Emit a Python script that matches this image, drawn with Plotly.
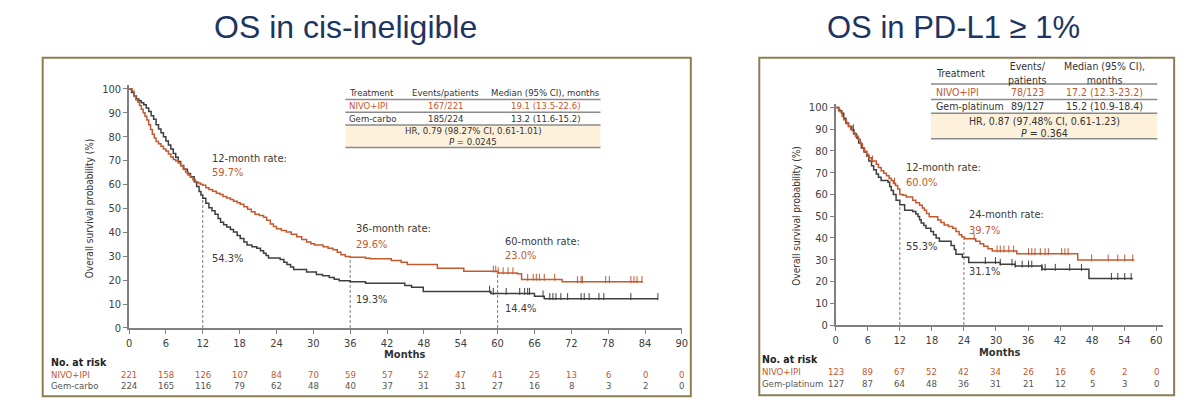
import plotly.graph_objects as go

# ---------------- DATA ----------------
# Left panel: OS in cis-ineligible
L_nivo_t = [0, 0.5, 0.8, 1.1, 1.4, 1.7, 2.0, 2.3, 2.6, 2.9, 3.2, 3.5, 3.8, 4.1, 4.4, 4.8, 5.2, 5.6, 6.0, 6.4,
            6.8, 7.2, 7.6, 8.0, 8.4, 8.8, 9.2, 9.6, 10.0, 10.4, 10.8, 11.2, 11.6, 12.0, 12.5, 13.0, 13.6, 14.2,
            14.8, 15.3, 15.9, 16.5, 17.0, 17.6, 18.1, 18.7, 19.3, 19.9, 20.5, 21.2, 21.9, 22.4, 23.0, 23.5,
            24.0, 24.8, 25.6, 26.4, 27.3, 28.1, 28.9, 29.6, 30.2, 31.6, 32.4, 33.2, 33.9, 34.5, 35.2, 36.0,
            38.5, 39.3, 42.7, 44.3, 45.3, 50.2, 54.5, 60.0, 63.2, 63.9, 70.5, 83.6]
L_nivo_s = [100, 99, 97, 95.5, 94.5, 93, 91.5, 90, 88.5, 87, 85, 83, 81, 79.5, 78, 77, 76, 74.8, 74, 72.8,
            71.5, 70.5, 69.8, 69, 67.8, 66.5, 65.2, 64, 63, 62, 61.2, 60.6, 60.1, 59.7, 58.6, 57.9, 57.2, 56.3,
            55.8, 55, 54.4, 53.7, 53, 52.4, 51.7, 50.7, 49.7, 48.6, 47.6, 47, 46.3, 45, 43.5, 42.4,
            41.5, 40.8, 40.1, 39.2, 38.1, 37, 36, 35.2, 34.7, 34, 33.3, 32.7, 31.7, 30.6, 29.9, 29.6,
            29.2, 28.9, 28.2, 27.5, 26.5, 25.0, 23.7, 23.0, 22.7, 20.3, 19.3, 19.3]
L_gem_t = [0, 0.4, 0.8, 1.2, 1.6, 2.0, 2.4, 2.8, 3.2, 3.6, 4.0, 4.4, 4.8, 5.2, 5.6, 6.0, 6.4, 6.8, 7.2, 7.6,
           8.0, 8.4, 8.9, 9.5, 10.0, 10.6, 11.0, 11.4, 11.7, 12.0, 12.5, 13.0, 13.5, 14.0, 14.5, 14.9, 15.4,
           15.9, 16.5, 17.0, 17.6, 18.1, 18.7, 19.2, 20.0, 20.8, 21.4, 21.9, 22.3, 22.7, 24.6, 25.2, 25.7,
           26.3, 26.8, 28.9, 30.5, 31.5, 32.6, 33.4, 34.2, 36.0, 38.5, 44.9, 46.0, 47.9, 58.9, 66.0, 67.6, 86.1]
L_gem_s = [100, 98.5, 97, 95.8, 95, 94.2, 93.4, 92, 90.5, 88.8, 87.3, 85, 83.2, 81.6, 80, 78.2, 76.5, 74.8, 73,
           71.4, 69.6, 68, 66.4, 64.6, 63.2, 61.2, 59.2, 57.1, 55.6, 54.3, 52.2, 50.3, 49, 47.6, 45.8, 44.2,
           43.2, 42.2, 41.2, 40.1, 38.7, 37.4, 36, 34.7, 34, 33.3, 32.3, 31.3, 30.3, 29.3, 28.6, 27.5, 26.5,
           25.5, 24.5, 23.4, 22.4, 21.8, 21.1, 20.4, 19.7, 19.3, 18.7, 17.8, 17.0, 15.3, 14.4, 13.3, 12.2, 12.2]
L_nivo_cens = [59.3, 59.7, 60.1, 60.9, 61.7, 62.5, 64.9, 65.8, 66.3, 66.8, 67.6, 69.3, 73.0, 73.6, 73.8,
               77.6, 78.2, 81.7, 82.2, 82.7, 83.5]
L_gem_cens = [58.7, 59.3, 61.4, 63.6, 64.4, 64.9, 65.2, 67.4, 68.5, 69.0, 69.5, 70.3, 71.4, 73.6, 74.1,
              74.9, 76.5, 77.3, 81.7, 86.1]
L_risk_months = [0, 6, 12, 18, 24, 30, 36, 42, 48, 54, 60, 66, 72, 78, 84, 90]
L_risk_nivo = [221, 158, 126, 107, 84, 70, 59, 57, 52, 47, 41, 25, 13, 6, 0, 0]
L_risk_gem = [224, 165, 116, 79, 62, 48, 40, 37, 31, 31, 27, 16, 8, 3, 2, 0]
L_marks = [12, 36, 60]
L_marks_top = [54.3, 29.6, 23.0]

# Right panel: OS in PD-L1 >= 1%
R_nivo_t = [0, 0.5, 0.8, 1.2, 1.5, 2.0, 2.4, 2.8, 3.3, 3.7, 4.2, 4.6, 5.0, 5.4, 5.8, 6.2, 6.7, 7.6, 8.0, 8.5,
            9.0, 9.5, 10.0, 10.4, 10.8, 11.2, 11.6, 12.0, 12.6, 13.2, 14.4, 15.0, 15.7, 16.2, 16.6, 17.0,
            17.5, 19.1, 19.7, 20.3, 21.1, 21.9, 22.5, 23.1, 23.6, 24.1, 26.2, 27.0, 27.7, 28.5, 29.3, 33.9,
            45.3, 55.9]
R_nivo_s = [100, 99, 98, 95.8, 94.3, 92.5, 91.3, 89.8, 88.2, 86.7, 85.2, 83.3, 81.4, 79.9, 78.4, 76.9, 75.4,
            73.9, 72.4, 70.9, 69.8, 68.6, 67.5, 66.4, 65.2, 64.1, 62.5, 60.0, 59.6, 58.8, 57.3, 56.2, 55,
            53.8, 52.8, 51.3, 49.8, 48.3, 47.1, 46, 45.3, 44.5, 43, 41.5, 40.5, 39.7, 38.5, 37.3, 36.2, 35.1,
            34.0, 32.8, 29.9, 29.9]
R_gem_t = [0, 0.6, 1.1, 1.5, 1.9, 2.4, 3.0, 3.4, 3.9, 4.3, 4.8, 5.3, 5.8, 6.2, 6.7, 7.1, 7.6, 8.0, 8.5, 9.8,
           10.1, 10.4, 10.8, 11.3, 12.0, 12.9, 14.4, 15.0, 15.4, 15.7, 16.0, 16.5, 16.9, 17.8, 18.3, 18.8,
           19.4, 21.6, 22.2, 22.5, 23.7, 24.9, 30.8, 33.6, 38.6, 47.4, 55.6]
R_gem_s = [100, 98.5, 97.3, 95, 92.8, 91.2, 89.7, 87.8, 86, 83.7, 81.4, 79.5, 77.7, 75.4, 73.2, 71.3, 69.4,
           67.9, 66.4, 65.6, 63.7, 61.8, 60, 57.3, 55.3, 52.8, 52.2, 51.0, 49.9, 48.4, 46.9, 45.7, 44.5, 43,
           41.5, 40, 38.5, 36.5, 34.7, 32.5, 31.1, 28.7, 27.9, 27.1, 25.6, 21.4, 21.4]
R_nivo_cens = [6.9, 11.0, 25.9, 30.2, 30.8, 31.5, 32.4, 33.3, 36.1, 36.7, 37.3, 38.3, 39.2, 39.8, 42.3, 42.9,
               43.5, 47.9, 51.0, 52.8, 54.1, 55.6]
R_gem_cens = [3.3, 28.0, 29.9, 30.8, 33.0, 33.6, 34.9, 36.1, 36.7, 38.6, 39.2, 41.1, 43.8, 46.0, 51.6, 52.8,
              54.1, 55.3]
R_risk_months = [0, 6, 12, 18, 24, 30, 36, 42, 48, 54, 60]
R_risk_nivo = [123, 89, 67, 52, 42, 34, 26, 16, 6, 2, 0]
R_risk_gem = [127, 87, 64, 48, 36, 31, 21, 12, 5, 3, 0]
R_marks = [12, 24]
R_marks_top = [55.3, 39.7]

# ---------------- STYLE ----------------
ORANGE = "#c4582e"
GRAY = "#3e3e3e"
AXC = "#808080"
TXT = "#404040"
NAVY = "#1d3560"
BORDER = "#8c7d55"
BEIGE = "#fdf1dc"
COND = "DejaVu Sans Condensed, DejaVu Sans, sans-serif"
W, H = 1200, 414


def PX(x):
    return x / W


def PY(y):
    return 1 - y / H


def step_at(ts, ss, t):
    v = ss[0]
    for a, b in zip(ts, ss):
        if a <= t:
            v = b
    return v


fig = go.Figure()


def add_panel(xa, ya, nt, ns, gt, gs, nc, gc, marks, tops):
    for t, top in zip(marks, tops):
        fig.add_trace(go.Scatter(x=[t, t], y=[0, top], mode="lines", xaxis=xa, yaxis=ya,
                                 line=dict(color="#7a7a7a", width=1, dash="3px,2px"), hoverinfo="skip"))
    fig.add_trace(go.Scatter(x=gt, y=gs, mode="lines", line=dict(color=GRAY, width=1.5, shape="hv"),
                             xaxis=xa, yaxis=ya))
    fig.add_trace(go.Scatter(x=nt, y=ns, mode="lines", line=dict(color=ORANGE, width=1.5, shape="hv"),
                             xaxis=xa, yaxis=ya))
    fig.add_trace(go.Scatter(x=gc, y=[step_at(gt, gs, t) + 0.9 for t in gc], mode="markers",
                             marker=dict(symbol="line-ns", size=5, line=dict(color=GRAY, width=1)),
                             xaxis=xa, yaxis=ya))
    fig.add_trace(go.Scatter(x=nc, y=[step_at(nt, ns, t) + 0.9 for t in nc], mode="markers",
                             marker=dict(symbol="line-ns", size=5, line=dict(color=ORANGE, width=1)),
                             xaxis=xa, yaxis=ya))


add_panel("x", "y", L_nivo_t, L_nivo_s, L_gem_t, L_gem_s, L_nivo_cens, L_gem_cens, L_marks, L_marks_top)
add_panel("x2", "y2", R_nivo_t, R_nivo_s, R_gem_t, R_gem_s, R_nivo_cens, R_gem_cens, R_marks, R_marks_top)

axis_common = dict(showline=True, linecolor=AXC, linewidth=1.5, ticks="outside", ticklen=4, tickcolor=AXC,
                   tickwidth=1, showgrid=False, zeroline=False, tickfont=dict(family=COND, size=11, color=TXT),
                   fixedrange=True)

L_y0, L_ppu = 333, 2.45
R_y0, R_ppu = 330, 2.23
fig.update_layout(
    xaxis=dict(domain=[PX(127), PX(684)], range=[0, 90], tickvals=L_risk_months, anchor="y", **axis_common),
    yaxis=dict(domain=[PY(L_y0), PY(L_y0 - 101.5 * L_ppu)], range=[0, 101.5], tickvals=list(range(0, 101, 10)),
               anchor="x", **axis_common),
    xaxis2=dict(domain=[PX(839), PX(839 + 61.3 * 5.383)], range=[0, 61.3], tickvals=R_risk_months, anchor="y2",
                **axis_common),
    yaxis2=dict(domain=[PY(R_y0), PY(R_y0 - 101.5 * R_ppu)], range=[0, 101.5], tickvals=list(range(0, 101, 10)),
                anchor="x2", **axis_common),
)

shapes = []
ann = []

# Panel borders
shapes.append(dict(type="rect", xref="paper", yref="paper", x0=PX(40), x1=PX(693), y0=PY(403), y1=PY(56),
                   line=dict(color=BORDER, width=2), layer="below"))
shapes.append(dict(type="rect", xref="paper", yref="paper", x0=PX(762), x1=PX(1180), y0=PY(402), y1=PY(56),
                   line=dict(color=BORDER, width=2), layer="below"))

# Titles
ann.append(dict(text="OS in cis-ineligible", x=PX(345), y=PY(25), xref="paper", yref="paper", showarrow=False,
                font=dict(family="Liberation Sans, Arial", size=32, color=NAVY), xanchor="center", yanchor="middle"))
ann.append(dict(text="OS in PD-L1 \u2265 1%", x=PX(958), y=PY(25), xref="paper", yref="paper", showarrow=False,
                font=dict(family="Liberation Sans, Arial", size=31, color=NAVY), xanchor="center", yanchor="middle"))


def txt(text, x, y, size=10, color=TXT, xanchor="center", family=COND, xref="paper", yref="paper", angle=0):
    ann.append(dict(text=text, x=x, y=y, xref=xref, yref=yref, showarrow=False, textangle=angle,
                    font=dict(family=family, size=size, color=color), xanchor=xanchor, yanchor="middle"))


def hline(x0, x1, y, color="#8a8a8a", width=1.5):
    shapes.append(dict(type="line", xref="paper", yref="paper", x0=PX(x0), x1=PX(x1), y0=PY(y), y1=PY(y),
                       line=dict(color=color, width=width)))


# Axis titles
txt("Overall survival probability (%)", PX(88), PY(210), size=10, color="#333333", angle=-90)
txt("Overall survival probability (%)", PX(800), PY(218), size=10, color="#333333", angle=-90)
txt("<b>Months</b>", PX(405), PY(360), size=11, color="#333333")
txt("<b>Months</b>", PX(1004), PY(358), size=11, color="#333333")

# Left table
tl, tr = 345, 602
shapes.append(dict(type="rect", xref="paper", yref="paper", x0=PX(tl), x1=PX(tr), y0=PY(148), y1=PY(125),
                   fillcolor=BEIGE, line=dict(width=0), layer="below"))
for yy in (99, 112, 125, 148):
    hline(tl, tr, yy)
fs = 9.5
txt("Treatment", PX(347), PY(92), fs, "#333333", "left")
txt("Events/patients", PX(446), PY(92), fs, "#333333")
txt("Median (95% CI), months", PX(547), PY(92), fs, "#333333")
txt("NIVO+IPI", PX(347), PY(105.5), fs, ORANGE, "left")
txt("167/221", PX(446), PY(105.5), fs, ORANGE)
txt("19.1 (13.5-22.6)", PX(547), PY(105.5), fs, ORANGE)
txt("Gem-carbo", PX(347), PY(118.5), fs, "#333333", "left")
txt("185/224", PX(446), PY(118.5), fs, "#333333")
txt("13.2 (11.6-15.2)", PX(547), PY(118.5), fs, "#333333")
txt("HR, 0.79 (98.27% CI, 0.61-1.01)", PX(474), PY(131), fs, "#333333")
txt("<i>P</i> = 0.0245", PX(474), PY(142), fs, "#333333")

# Right table
rl, rr = 935, 1163
shapes.append(dict(type="rect", xref="paper", yref="paper", x0=PX(rl), x1=PX(rr), y0=PY(139), y1=PY(113),
                   fillcolor=BEIGE, line=dict(width=0), layer="below"))
for yy in (83, 99, 113, 139):
    hline(rl, rr, yy)
fs2 = 10.5
txt("Treatment", PX(938), PY(72), fs2, "#333333", "left")
txt("Events/<br>patients", PX(1032), PY(72), fs2, "#333333")
txt("Median (95% CI),<br>months", PX(1110), PY(72), fs2, "#333333")
txt("NIVO+IPI", PX(938), PY(91.5), fs2, ORANGE, "left")
txt("78/123", PX(1032), PY(91.5), fs2, ORANGE)
txt("17.2 (12.3-23.2)", PX(1110), PY(91.5), fs2, ORANGE)
txt("Gem-platinum", PX(938), PY(106), fs2, "#333333", "left")
txt("89/127", PX(1032), PY(106), fs2, "#333333")
txt("15.2 (10.9-18.4)", PX(1110), PY(106), fs2, "#333333")
txt("HR, 0.87 (97.48% CI, 0.61-1.23)", PX(1049), PY(121), fs2, "#333333")
txt("<i>P</i> = 0.364", PX(1049), PY(133), fs2, "#333333")

# Rate annotations (data coordinates)
rs = 11
for (t, y1, y2, y3, rate_label, top_val, bot_val, xa, ya) in [
    (13.1, 71.0, 64.9, 29.0, "12-month rate:", "59.7%", "54.3%", "x", "y"),
    (36.7, 41.6, 35.1, 11.8, "36-month rate:", "29.6%", "19.3%", "x", "y"),
    (60.8, 36.3, 30.2, 8.2, "60-month rate:", "23.0%", "14.4%", "x", "y"),
    (12.8, 72.2, 65.5, 35.9, "12-month rate:", "60.0%", "55.3%", "x2", "y2"),
    (24.5, 50.7, 43.5, 24.7, "24-month rate:", "39.7%", "31.1%", "x2", "y2"),
]:
    txt(rate_label, t, y1, rs, "#3a3a3a", "left", xref=xa, yref=ya)
    txt(top_val, t, y2, rs, ORANGE, "left", xref=xa, yref=ya)
    txt(bot_val, t, y3, rs, "#3a3a3a", "left", xref=xa, yref=ya)

# Risk tables
txt("<b>No. at risk</b>", PX(46), PY(368), 10.5, "#222222", "left")
txt("NIVO+IPI", PX(46), PY(381), 9.5, ORANGE, "left")
txt("Gem-carbo", PX(46), PY(391.5), 9.5, "#555555", "left")
for m, a, b in zip(L_risk_months, L_risk_nivo, L_risk_gem):
    txt(str(a), m, PY(381), 9.5, ORANGE, xref="x")
    txt(str(b), m, PY(391.5), 9.5, "#555555", xref="x")

txt("<b>No. at risk</b>", PX(763), PY(365), 10.5, "#222222", "left")
txt("NIVO+IPI", PX(763), PY(378), 9.5, ORANGE, "left")
txt("Gem-platinum", PX(763), PY(389.5), 9.5, "#555555", "left")
for m, a, b in zip(R_risk_months, R_risk_nivo, R_risk_gem):
    txt(str(a), m, PY(378), 9.5, ORANGE, xref="x2")
    txt(str(b), m, PY(389.5), 9.5, "#555555", xref="x2")

fig.update_layout(width=W, height=H, margin=dict(l=0, r=0, t=0, b=0), showlegend=False,
                  paper_bgcolor="white", plot_bgcolor="rgba(0,0,0,0)", shapes=shapes, annotations=ann)

fig.write_html("out.html", config={"displayModeBar": False})
